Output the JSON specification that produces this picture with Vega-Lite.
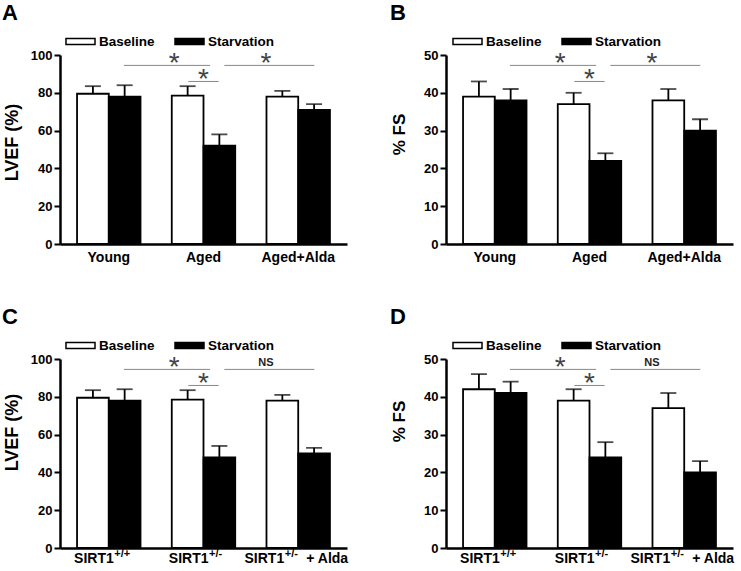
{
  "$schema": "https://vega.github.io/schema/vega-lite/v6.json",
  "padding": {"left": 2, "top": 2, "right": 2, "bottom": 2},
  "background": "white",
  "config": {"view": {"stroke": null}, "font": "Liberation Sans"},
  "datasets": {
    "A_bars": [
      {"g": "Young", "s": "Baseline", "v": 79.5, "hi": 83.5},
      {"g": "Young", "s": "Starvation", "v": 78, "hi": 84},
      {"g": "Aged", "s": "Baseline", "v": 78.5, "hi": 83.5},
      {"g": "Aged", "s": "Starvation", "v": 52, "hi": 58},
      {"g": "Aged+Alda", "s": "Baseline", "v": 78, "hi": 81},
      {"g": "Aged+Alda", "s": "Starvation", "v": 71, "hi": 74}
    ],
    "B_bars": [
      {"g": "Young", "s": "Baseline", "v": 39, "hi": 43},
      {"g": "Young", "s": "Starvation", "v": 38, "hi": 41},
      {"g": "Aged", "s": "Baseline", "v": 37, "hi": 40},
      {"g": "Aged", "s": "Starvation", "v": 22, "hi": 24},
      {"g": "Aged+Alda", "s": "Baseline", "v": 38, "hi": 41},
      {"g": "Aged+Alda", "s": "Starvation", "v": 30, "hi": 33}
    ],
    "C_bars": [
      {"g": "SIRT1+/+", "s": "Baseline", "v": 79.5, "hi": 83.5},
      {"g": "SIRT1+/+", "s": "Starvation", "v": 78, "hi": 84},
      {"g": "SIRT1+/-", "s": "Baseline", "v": 78.5, "hi": 83.5},
      {"g": "SIRT1+/-", "s": "Starvation", "v": 48, "hi": 54},
      {"g": "SIRT1+/- + Alda", "s": "Baseline", "v": 78, "hi": 81},
      {"g": "SIRT1+/- + Alda", "s": "Starvation", "v": 50, "hi": 53}
    ],
    "D_bars": [
      {"g": "SIRT1+/+", "s": "Baseline", "v": 42, "hi": 46},
      {"g": "SIRT1+/+", "s": "Starvation", "v": 41, "hi": 44},
      {"g": "SIRT1+/-", "s": "Baseline", "v": 39, "hi": 42},
      {"g": "SIRT1+/-", "s": "Starvation", "v": 24, "hi": 28},
      {"g": "SIRT1+/- + Alda", "s": "Baseline", "v": 37, "hi": 41},
      {"g": "SIRT1+/- + Alda", "s": "Starvation", "v": 20, "hi": 23}
    ],
    "lines_EF": [
      {"x1": 0.16, "x2": 1.07, "y": 94.5},
      {"x1": 0.84, "x2": 1.16, "y": 86},
      {"x1": 1.22, "x2": 2.17, "y": 94.5}
    ],
    "lines_FS": [
      {"x1": 0.16, "x2": 1.07, "y": 47.25},
      {"x1": 0.84, "x2": 1.16, "y": 43},
      {"x1": 1.22, "x2": 2.17, "y": 47.25}
    ],
    "stars3_EF": [
      {"x": 0.69, "y": 94.5, "t": "*"},
      {"x": 1.0, "y": 86, "t": "*"},
      {"x": 1.66, "y": 94.5, "t": "*"}
    ],
    "stars3_FS": [
      {"x": 0.69, "y": 47.25, "t": "*"},
      {"x": 1.0, "y": 43, "t": "*"},
      {"x": 1.66, "y": 47.25, "t": "*"}
    ],
    "stars2_EF": [
      {"x": 0.69, "y": 94.5, "t": "*"},
      {"x": 1.0, "y": 86, "t": "*"}
    ],
    "stars2_FS": [
      {"x": 0.69, "y": 47.25, "t": "*"},
      {"x": 1.0, "y": 43, "t": "*"}
    ],
    "ns_EF": [{"x": 1.66, "y": 94.5, "t": "NS"}],
    "ns_FS": [{"x": 1.66, "y": 47.25, "t": "NS"}],
    "lab_main12": [{"g": "SIRT1+/+", "t": "SIRT1"}, {"g": "SIRT1+/-", "t": "SIRT1"}],
    "lab_sup12": [{"g": "SIRT1+/+", "t": "+/+"}, {"g": "SIRT1+/-", "t": "+/-"}],
    "lab_main3": [{"g": "SIRT1+/- + Alda", "t": "SIRT1"}],
    "lab_sup3": [{"g": "SIRT1+/- + Alda", "t": "+/-"}],
    "lab_tail3": [{"g": "SIRT1+/- + Alda", "t": "+ Alda"}]
  },
  "columns": 2,
  "spacing": {"row": 115, "column": 99},
  "bounds": "flush",
  "resolve": {"scale": {"fill": "independent"}, "legend": {"fill": "independent"}},
  "concat": [
    {
      "width": 287, "height": 189,
      "title": {"text": "A", "anchor": "start", "frame": "group", "dx": -58, "offset": 1, "fontSize": 22, "fontWeight": "bold", "font": "Liberation Sans", "color": "black"},
      "resolve": {"scale": {"x": "independent"}},
      "layer": [
        {
          "data": {"name": "A_bars"},
          "encoding": {"x": {"field": "g", "type": "nominal", "sort": null, "scale": {"domain": ["Young", "Aged", "Aged+Alda"], "paddingInner": 0.33, "paddingOuter": 0.18}, "axis": {"title": null, "labelAngle": 0, "ticks": false, "domainColor": "black", "domainWidth": 2.5, "labelFont": "Liberation Sans", "labelFontWeight": "bold", "labelFontSize": 14, "labelColor": "black", "labelPadding": 6}}},
          "layer": [
            {"mark": {"type": "bar", "stroke": "black", "strokeWidth": 1.8},
             "encoding": {
               "xOffset": {"field": "s", "type": "nominal", "scale": {"domain": ["Baseline", "Starvation"], "paddingInner": 0, "paddingOuter": 0}},
               "y": {"field": "v", "type": "quantitative", "scale": {"domain": [0, 100], "nice": false}, "axis": {"title": "LVEF (%)", "titleY": 87, "values": [0, 20, 40, 60, 80, 100], "tickCount": 6, "labelOverlap": false, "grid": false, "domainColor": "black", "domainWidth": 2.5, "tickColor": "black", "tickWidth": 2, "tickSize": 6, "labelFont": "Liberation Sans", "labelFontWeight": "bold", "labelFontSize": 13, "labelColor": "black", "labelPadding": 2, "titleFont": "Liberation Sans", "titleFontWeight": "bold", "titleFontSize": 18, "titleColor": "black", "titlePadding": 9}},
               "fill": {"field": "s", "type": "nominal", "scale": {"domain": ["Baseline", "Starvation"], "range": ["white", "black"]}, "legend": {"orient": "none", "legendX": 5, "legendY": -29, "direction": "horizontal", "title": null, "symbolType": "M-1,-0.2H1V0.2H-1Z", "symbolSize": 841, "symbolStrokeColor": "black", "symbolStrokeWidth": 1.5, "symbolOpacity": 1, "labelFont": "Liberation Sans", "labelFontWeight": "bold", "labelFontSize": 13.5, "labelColor": "black", "labelOffset": 3, "columnPadding": 17}}
             }},
            {"mark": {"type": "rule", "color": "black", "strokeWidth": 1.8},
             "encoding": {"xOffset": {"field": "s", "type": "nominal"}, "y": {"field": "v", "type": "quantitative"}, "y2": {"field": "hi"}}},
            {"mark": {"type": "tick", "color": "black", "thickness": 1.8, "size": 16},
             "encoding": {"xOffset": {"field": "s", "type": "nominal"}, "y": {"field": "hi", "type": "quantitative"}}}
          ]
        },
        {
          "layer": [
            {"data": {"name": "lines_EF"}, "mark": {"type": "rule", "color": "#888888", "strokeWidth": 1},
             "encoding": {"x": {"field": "x1", "type": "quantitative", "scale": {"domain": [-0.515, 2.515], "nice": false, "zero": false}, "axis": null}, "x2": {"field": "x2"}, "y": {"field": "y", "type": "quantitative"}}},
            {"data": {"name": "stars3_EF"}, "mark": {"type": "text", "font": "Liberation Sans", "fontSize": 28, "color": "#444444", "baseline": "alphabetic", "dy": 7},
             "encoding": {"x": {"field": "x", "type": "quantitative"}, "y": {"field": "y", "type": "quantitative"}, "text": {"field": "t"}}}
          ]
        }
      ]
    },
    {
      "width": 287, "height": 189,
      "title": {"text": "B", "anchor": "start", "frame": "group", "dx": -56, "offset": 1, "fontSize": 22, "fontWeight": "bold", "font": "Liberation Sans", "color": "black"},
      "resolve": {"scale": {"x": "independent"}},
      "layer": [
        {
          "data": {"name": "B_bars"},
          "encoding": {"x": {"field": "g", "type": "nominal", "sort": null, "scale": {"domain": ["Young", "Aged", "Aged+Alda"], "paddingInner": 0.33, "paddingOuter": 0.18}, "axis": {"title": null, "labelAngle": 0, "ticks": false, "domainColor": "black", "domainWidth": 2.5, "labelFont": "Liberation Sans", "labelFontWeight": "bold", "labelFontSize": 14, "labelColor": "black", "labelPadding": 6}}},
          "layer": [
            {"mark": {"type": "bar", "stroke": "black", "strokeWidth": 1.8},
             "encoding": {
               "xOffset": {"field": "s", "type": "nominal", "scale": {"domain": ["Baseline", "Starvation"], "paddingInner": 0, "paddingOuter": 0}},
               "y": {"field": "v", "type": "quantitative", "scale": {"domain": [0, 50], "nice": false}, "axis": {"title": "% FS", "titleY": 79, "values": [0, 10, 20, 30, 40, 50], "tickCount": 6, "labelOverlap": false, "grid": false, "domainColor": "black", "domainWidth": 2.5, "tickColor": "black", "tickWidth": 2, "tickSize": 6, "labelFont": "Liberation Sans", "labelFontWeight": "bold", "labelFontSize": 13, "labelColor": "black", "labelPadding": 2, "titleFont": "Liberation Sans", "titleFontWeight": "bold", "titleFontSize": 17, "titleColor": "black", "titlePadding": 15}},
               "fill": {"field": "s", "type": "nominal", "scale": {"domain": ["Baseline", "Starvation"], "range": ["white", "black"]}, "legend": {"orient": "none", "legendX": 6, "legendY": -29, "direction": "horizontal", "title": null, "symbolType": "M-1,-0.2H1V0.2H-1Z", "symbolSize": 841, "symbolStrokeColor": "black", "symbolStrokeWidth": 1.5, "symbolOpacity": 1, "labelFont": "Liberation Sans", "labelFontWeight": "bold", "labelFontSize": 13.5, "labelColor": "black", "labelOffset": 3, "columnPadding": 17}}
             }},
            {"mark": {"type": "rule", "color": "black", "strokeWidth": 1.8},
             "encoding": {"xOffset": {"field": "s", "type": "nominal"}, "y": {"field": "v", "type": "quantitative"}, "y2": {"field": "hi"}}},
            {"mark": {"type": "tick", "color": "black", "thickness": 1.8, "size": 16},
             "encoding": {"xOffset": {"field": "s", "type": "nominal"}, "y": {"field": "hi", "type": "quantitative"}}}
          ]
        },
        {
          "layer": [
            {"data": {"name": "lines_FS"}, "mark": {"type": "rule", "color": "#888888", "strokeWidth": 1},
             "encoding": {"x": {"field": "x1", "type": "quantitative", "scale": {"domain": [-0.515, 2.515], "nice": false, "zero": false}, "axis": null}, "x2": {"field": "x2"}, "y": {"field": "y", "type": "quantitative"}}},
            {"data": {"name": "stars3_FS"}, "mark": {"type": "text", "font": "Liberation Sans", "fontSize": 28, "color": "#444444", "baseline": "alphabetic", "dy": 7},
             "encoding": {"x": {"field": "x", "type": "quantitative"}, "y": {"field": "y", "type": "quantitative"}, "text": {"field": "t"}}}
          ]
        }
      ]
    },
    {
      "width": 287, "height": 189,
      "title": {"text": "C", "anchor": "start", "frame": "group", "dx": -58, "offset": 1, "fontSize": 22, "fontWeight": "bold", "font": "Liberation Sans", "color": "black"},
      "resolve": {"scale": {"x": "independent"}},
      "layer": [
        {
          "data": {"name": "C_bars"},
          "encoding": {"x": {"field": "g", "type": "nominal", "sort": null, "scale": {"domain": ["SIRT1+/+", "SIRT1+/-", "SIRT1+/- + Alda"], "paddingInner": 0.33, "paddingOuter": 0.18}, "axis": {"title": null, "labels": false, "ticks": false, "domainColor": "black", "domainWidth": 2.5}}},
          "layer": [
            {"mark": {"type": "bar", "stroke": "black", "strokeWidth": 1.8},
             "encoding": {
               "xOffset": {"field": "s", "type": "nominal", "scale": {"domain": ["Baseline", "Starvation"], "paddingInner": 0, "paddingOuter": 0}},
               "y": {"field": "v", "type": "quantitative", "scale": {"domain": [0, 100], "nice": false}, "axis": {"title": "LVEF (%)", "titleY": 73, "values": [0, 20, 40, 60, 80, 100], "tickCount": 6, "labelOverlap": false, "grid": false, "domainColor": "black", "domainWidth": 2.5, "tickColor": "black", "tickWidth": 2, "tickSize": 6, "labelFont": "Liberation Sans", "labelFontWeight": "bold", "labelFontSize": 13, "labelColor": "black", "labelPadding": 2, "titleFont": "Liberation Sans", "titleFontWeight": "bold", "titleFontSize": 18, "titleColor": "black", "titlePadding": 9}},
               "fill": {"field": "s", "type": "nominal", "scale": {"domain": ["Baseline", "Starvation"], "range": ["white", "black"]}, "legend": {"orient": "none", "legendX": 5, "legendY": -29, "direction": "horizontal", "title": null, "symbolType": "M-1,-0.2H1V0.2H-1Z", "symbolSize": 841, "symbolStrokeColor": "black", "symbolStrokeWidth": 1.5, "symbolOpacity": 1, "labelFont": "Liberation Sans", "labelFontWeight": "bold", "labelFontSize": 13.5, "labelColor": "black", "labelOffset": 3, "columnPadding": 17}}
             }},
            {"mark": {"type": "rule", "color": "black", "strokeWidth": 1.8},
             "encoding": {"xOffset": {"field": "s", "type": "nominal"}, "y": {"field": "v", "type": "quantitative"}, "y2": {"field": "hi"}}},
            {"mark": {"type": "tick", "color": "black", "thickness": 1.8, "size": 16},
             "encoding": {"xOffset": {"field": "s", "type": "nominal"}, "y": {"field": "hi", "type": "quantitative"}}},
            {"data": {"name": "lab_main12"}, "mark": {"type": "text", "align": "right", "baseline": "top", "dx": 5, "dy": 4, "font": "Liberation Sans", "fontWeight": "bold", "fontSize": 14, "color": "black"},
             "encoding": {"y": {"datum": 0}, "text": {"field": "t"}}},
            {"data": {"name": "lab_sup12"}, "mark": {"type": "text", "align": "left", "baseline": "top", "dx": 5.5, "dy": 0, "font": "Liberation Sans", "fontWeight": "bold", "fontSize": 11, "color": "black"},
             "encoding": {"y": {"datum": 0}, "text": {"field": "t"}}},
            {"data": {"name": "lab_main3"}, "mark": {"type": "text", "align": "right", "baseline": "top", "dx": -14, "dy": 4, "font": "Liberation Sans", "fontWeight": "bold", "fontSize": 14, "color": "black"},
             "encoding": {"y": {"datum": 0}, "text": {"field": "t"}}},
            {"data": {"name": "lab_sup3"}, "mark": {"type": "text", "align": "left", "baseline": "top", "dx": -13.5, "dy": 0, "font": "Liberation Sans", "fontWeight": "bold", "fontSize": 11, "color": "black"},
             "encoding": {"y": {"datum": 0}, "text": {"field": "t"}}},
            {"data": {"name": "lab_tail3"}, "mark": {"type": "text", "align": "left", "baseline": "top", "dx": 8, "dy": 4, "font": "Liberation Sans", "fontWeight": "bold", "fontSize": 14, "color": "black"},
             "encoding": {"y": {"datum": 0}, "text": {"field": "t"}}}
          ]
        },
        {
          "layer": [
            {"data": {"name": "lines_EF"}, "mark": {"type": "rule", "color": "#888888", "strokeWidth": 1},
             "encoding": {"x": {"field": "x1", "type": "quantitative", "scale": {"domain": [-0.515, 2.515], "nice": false, "zero": false}, "axis": null}, "x2": {"field": "x2"}, "y": {"field": "y", "type": "quantitative"}}},
            {"data": {"name": "stars2_EF"}, "mark": {"type": "text", "font": "Liberation Sans", "fontSize": 28, "color": "#444444", "baseline": "alphabetic", "dy": 7},
             "encoding": {"x": {"field": "x", "type": "quantitative"}, "y": {"field": "y", "type": "quantitative"}, "text": {"field": "t"}}},
            {"data": {"name": "ns_EF"}, "mark": {"type": "text", "font": "Liberation Sans", "fontSize": 11, "fontWeight": "bold", "color": "#222222", "baseline": "alphabetic", "dy": -3},
             "encoding": {"x": {"field": "x", "type": "quantitative"}, "y": {"field": "y", "type": "quantitative"}, "text": {"field": "t"}}}
          ]
        }
      ]
    },
    {
      "width": 287, "height": 189,
      "title": {"text": "D", "anchor": "start", "frame": "group", "dx": -56, "offset": 1, "fontSize": 22, "fontWeight": "bold", "font": "Liberation Sans", "color": "black"},
      "resolve": {"scale": {"x": "independent"}},
      "layer": [
        {
          "data": {"name": "D_bars"},
          "encoding": {"x": {"field": "g", "type": "nominal", "sort": null, "scale": {"domain": ["SIRT1+/+", "SIRT1+/-", "SIRT1+/- + Alda"], "paddingInner": 0.33, "paddingOuter": 0.18}, "axis": {"title": null, "labels": false, "ticks": false, "domainColor": "black", "domainWidth": 2.5}}},
          "layer": [
            {"mark": {"type": "bar", "stroke": "black", "strokeWidth": 1.8},
             "encoding": {
               "xOffset": {"field": "s", "type": "nominal", "scale": {"domain": ["Baseline", "Starvation"], "paddingInner": 0, "paddingOuter": 0}},
               "y": {"field": "v", "type": "quantitative", "scale": {"domain": [0, 50], "nice": false}, "axis": {"title": "% FS", "titleY": 62, "values": [0, 10, 20, 30, 40, 50], "tickCount": 6, "labelOverlap": false, "grid": false, "domainColor": "black", "domainWidth": 2.5, "tickColor": "black", "tickWidth": 2, "tickSize": 6, "labelFont": "Liberation Sans", "labelFontWeight": "bold", "labelFontSize": 13, "labelColor": "black", "labelPadding": 2, "titleFont": "Liberation Sans", "titleFontWeight": "bold", "titleFontSize": 17, "titleColor": "black", "titlePadding": 15}},
               "fill": {"field": "s", "type": "nominal", "scale": {"domain": ["Baseline", "Starvation"], "range": ["white", "black"]}, "legend": {"orient": "none", "legendX": 6, "legendY": -29, "direction": "horizontal", "title": null, "symbolType": "M-1,-0.2H1V0.2H-1Z", "symbolSize": 841, "symbolStrokeColor": "black", "symbolStrokeWidth": 1.5, "symbolOpacity": 1, "labelFont": "Liberation Sans", "labelFontWeight": "bold", "labelFontSize": 13.5, "labelColor": "black", "labelOffset": 3, "columnPadding": 17}}
             }},
            {"mark": {"type": "rule", "color": "black", "strokeWidth": 1.8},
             "encoding": {"xOffset": {"field": "s", "type": "nominal"}, "y": {"field": "v", "type": "quantitative"}, "y2": {"field": "hi"}}},
            {"mark": {"type": "tick", "color": "black", "thickness": 1.8, "size": 16},
             "encoding": {"xOffset": {"field": "s", "type": "nominal"}, "y": {"field": "hi", "type": "quantitative"}}},
            {"data": {"name": "lab_main12"}, "mark": {"type": "text", "align": "right", "baseline": "top", "dx": 5, "dy": 4, "font": "Liberation Sans", "fontWeight": "bold", "fontSize": 14, "color": "black"},
             "encoding": {"y": {"datum": 0}, "text": {"field": "t"}}},
            {"data": {"name": "lab_sup12"}, "mark": {"type": "text", "align": "left", "baseline": "top", "dx": 5.5, "dy": 0, "font": "Liberation Sans", "fontWeight": "bold", "fontSize": 11, "color": "black"},
             "encoding": {"y": {"datum": 0}, "text": {"field": "t"}}},
            {"data": {"name": "lab_main3"}, "mark": {"type": "text", "align": "right", "baseline": "top", "dx": -14, "dy": 4, "font": "Liberation Sans", "fontWeight": "bold", "fontSize": 14, "color": "black"},
             "encoding": {"y": {"datum": 0}, "text": {"field": "t"}}},
            {"data": {"name": "lab_sup3"}, "mark": {"type": "text", "align": "left", "baseline": "top", "dx": -13.5, "dy": 0, "font": "Liberation Sans", "fontWeight": "bold", "fontSize": 11, "color": "black"},
             "encoding": {"y": {"datum": 0}, "text": {"field": "t"}}},
            {"data": {"name": "lab_tail3"}, "mark": {"type": "text", "align": "left", "baseline": "top", "dx": 8, "dy": 4, "font": "Liberation Sans", "fontWeight": "bold", "fontSize": 14, "color": "black"},
             "encoding": {"y": {"datum": 0}, "text": {"field": "t"}}}
          ]
        },
        {
          "layer": [
            {"data": {"name": "lines_FS"}, "mark": {"type": "rule", "color": "#888888", "strokeWidth": 1},
             "encoding": {"x": {"field": "x1", "type": "quantitative", "scale": {"domain": [-0.515, 2.515], "nice": false, "zero": false}, "axis": null}, "x2": {"field": "x2"}, "y": {"field": "y", "type": "quantitative"}}},
            {"data": {"name": "stars2_FS"}, "mark": {"type": "text", "font": "Liberation Sans", "fontSize": 28, "color": "#444444", "baseline": "alphabetic", "dy": 7},
             "encoding": {"x": {"field": "x", "type": "quantitative"}, "y": {"field": "y", "type": "quantitative"}, "text": {"field": "t"}}},
            {"data": {"name": "ns_FS"}, "mark": {"type": "text", "font": "Liberation Sans", "fontSize": 11, "fontWeight": "bold", "color": "#222222", "baseline": "alphabetic", "dy": -3},
             "encoding": {"x": {"field": "x", "type": "quantitative"}, "y": {"field": "y", "type": "quantitative"}, "text": {"field": "t"}}}
          ]
        }
      ]
    }
  ]
}
